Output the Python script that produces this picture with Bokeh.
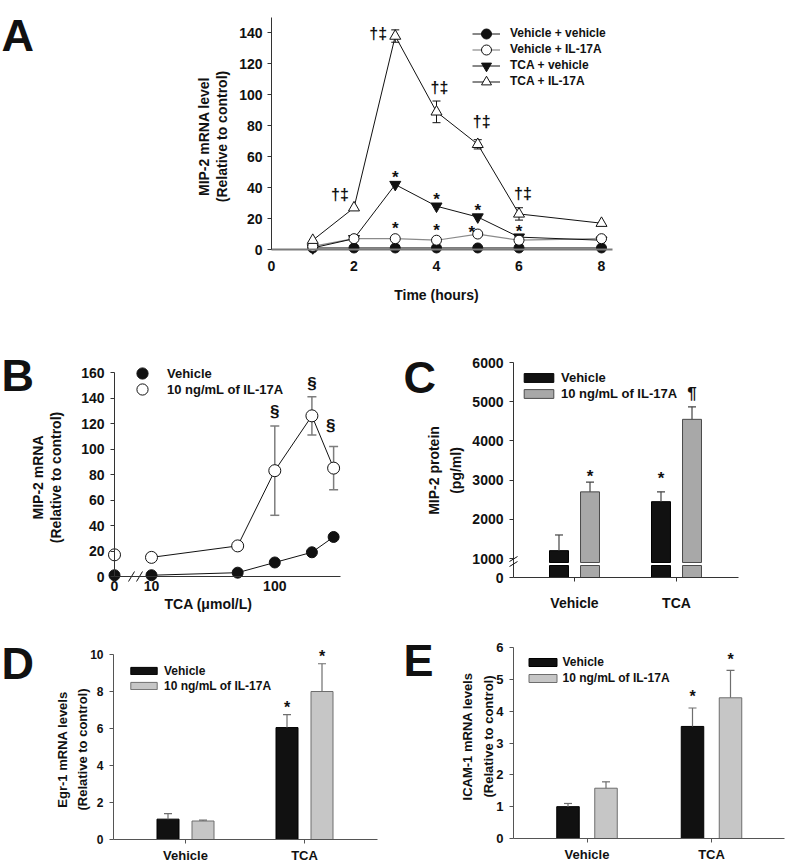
import math
from bokeh.plotting import figure
from bokeh.models import (Range1d, FixedTicker, Label, LabelSet, Legend, LegendItem,
                          Whisker, TeeHead, ColumnDataSource, Arrow)
from bokeh.layouts import column, row
from bokeh.embed import file_html
from bokeh.resources import INLINE
from bokeh.core.properties import value

FONT = "Liberation Sans"
INK = "#111111"

# ================= data =================
# Panel A : MIP-2 mRNA time course
a_time = [1, 2, 3, 4, 5, 6, 8]
a_veh_veh = [1, 1, 1, 1, 1, 1, 1]
a_veh_il17 = [2, 7, 7, 6, 10, 6, 7]
a_tca_veh = [1, 7, 42, 28, 21, 8, 6]
a_tca_il17 = [6, 27, 138, 89, 68, 23, 17]
a_tca_il17_err = [0, 0, 4, 7, 3, 4, 0]
a_x_ticks = [0, 2, 4, 6, 8]
a_y_ticks = [0, 20, 40, 60, 80, 100, 120, 140]
a_star_tca_veh = [3, 4, 5, 6]
a_star_veh_il17 = [3, 4, 5]
a_dagger_tca_il17 = [2, 3, 4, 5, 6]
a_labels = ["Vehicle + vehicle", "Vehicle + IL-17A", "TCA + vehicle", "TCA + IL-17A"]

# Panel B : dose response
b_conc = [0, 10, 50, 100, 200, 300]
b_vehicle = [1, 1, 3, 11, 19, 31]
b_il17 = [17, 15, 24, 83, 126, 85]
b_il17_err = [0, 0, 0, 35, 15, 17]
b_x_ticks = [0, 10, 100]
b_y_ticks = [0, 20, 40, 60, 80, 100, 120, 140, 160]
b_section = [100, 200, 300]
b_labels = ["Vehicle", "10 ng/mL of IL-17A"]

# Panels C, D, E : grouped bars
groups = ["Vehicle", "TCA"]
bar_labels = ["Vehicle", "10 ng/mL of IL-17A"]

c_vehicle = [1200, 2450]
c_vehicle_err = [400, 250]
c_vehicle_mark = ["", "*"]
c_il17 = [2700, 4550]
c_il17_err = [250, 320]
c_il17_mark = ["*", "\u00b6"]
c_y_ticks = [0, 1000, 2000, 3000, 4000, 5000, 6000]

d_vehicle = [1.1, 6.05]
d_vehicle_err = [0.3, 0.7]
d_vehicle_mark = ["", "*"]
d_il17 = [1.0, 8.0]
d_il17_err = [0.05, 1.5]
d_il17_mark = ["", "*"]
d_y_ticks = [0, 2, 4, 6, 8, 10]

e_vehicle = [1.0, 3.52]
e_vehicle_err = [0.1, 0.58]
e_vehicle_mark = ["", "*"]
e_il17 = [1.58, 4.42]
e_il17_err = [0.2, 0.86]
e_il17_mark = ["", "*"]
e_y_ticks = [0, 1, 2, 3, 4, 5, 6]


# ================= helpers =================
def make_panel(outer, xa, ya):
    """Figure whose plotting frame fills the whole box `outer` (page px).
    xa = (px0, v0, px1, v1), ya = (py0, v0, py1, v1): pixel anchors of the data scale."""
    ox0, oy0, ox1, oy1 = outer
    kx = (xa[3] - xa[1]) / (xa[2] - xa[0])
    ky = (ya[3] - ya[1]) / (ya[0] - ya[2])
    xr = (xa[1] + (ox0 - xa[0]) * kx, xa[1] + (ox1 - xa[0]) * kx)
    yr = (ya[1] - (oy1 - ya[0]) * ky, ya[1] + (ya[0] - oy0) * ky)
    p = figure(width=ox1 - ox0, height=oy1 - oy0, title=None,
               x_range=Range1d(*xr), y_range=Range1d(*yr),
               output_backend="svg", toolbar_location=None,
               min_border_left=0, min_border_right=0,
               min_border_top=0, min_border_bottom=0)
    p.xgrid.visible = False
    p.ygrid.visible = False
    p.outline_line_color = None
    p.background_fill_color = "white"
    p.border_fill_color = "white"

    def at(px, py):
        return xa[1] + (px - xa[0]) * kx, ya[1] + (ya[0] - py) * ky

    def loc(px_left, py_bottom):       # legend location, relative to frame bottom-left
        return (px_left - ox0, oy1 - py_bottom)
    return p, at, loc, kx, ky


def style_axis(ax, size, ticks, overrides=None, tick_out=4, standoff=6,
               color="#333333", width=1):
    ax.ticker = FixedTicker(ticks=ticks)
    if overrides:
        ax.major_label_overrides = overrides
    ax.axis_line_color = color
    ax.axis_line_width = width
    ax.major_tick_line_color = color if tick_out > 0 else None
    ax.major_tick_out = tick_out
    ax.major_tick_in = 0
    ax.minor_tick_line_color = None
    ax.major_label_standoff = standoff
    ax.major_label_text_font = FONT
    ax.major_label_text_font_style = "bold"
    ax.major_label_text_font_size = f"{size}px"
    ax.major_label_text_color = INK


def add_text(p, xy, text, size, angle=0.0, align="center", baseline="middle"):
    p.add_layout(Label(x=xy[0], y=xy[1], text=text, angle=angle,
                       text_align=align, text_baseline=baseline,
                       text_font=FONT, text_font_style="bold",
                       text_font_size=f"{size}px", text_color=INK))


def add_marks(p, xs, ys, texts, size):
    src = ColumnDataSource(dict(x=xs, y=ys, text=texts))
    p.add_layout(LabelSet(x="x", y="y", text="text", source=src,
                          text_align="center", text_baseline="middle",
                          text_font=value(FONT), text_font_style="bold",
                          text_font_size=value(f"{size}px"), text_color=INK))


def make_legend(items, loc, gw, gh, lh, standoff, size):
    return Legend(items=items, location=(float(loc[0]), float(loc[1])),
                  glyph_width=int(round(gw)), glyph_height=int(round(gh)),
                  spacing=0, padding=0, margin=0,
                  label_height=int(round(lh)), label_standoff=int(round(standoff)),
                  border_line_color=None, background_fill_alpha=0,
                  label_text_font=FONT, label_text_font_style="bold",
                  label_text_font_size=f"{size}px", label_text_color=INK)


STAR_LIFT = 5  # '*' sits high in the em box

# ================= Panel A =================
pA, atA, locA, kxA, kyA = make_panel((0, 0, 788, 310), (271, 0, 601, 8), (249, 0, 17, 150))
style_axis(pA.xaxis[0], 14, a_x_ticks, tick_out=0, standoff=11, color="#7a7a7a", width=2)
pA.xaxis[0].fixed_location = 0
pA.xaxis[0].bounds = (0, atA(612, 0)[0])
style_axis(pA.yaxis[0], 14, a_y_ticks, tick_out=4, standoff=5)
pA.yaxis[0].fixed_location = 0
pA.yaxis[0].bounds = (0, 150)

ti_idx = [i for i, e in enumerate(a_tca_il17_err) if e > 0]
srcA_err = ColumnDataSource(dict(
    x=[a_time[i] for i in ti_idx],
    lo=[a_tca_il17[i] - a_tca_il17_err[i] for i in ti_idx],
    hi=[a_tca_il17[i] + a_tca_il17_err[i] for i in ti_idx]))
pA.add_layout(Whisker(source=srcA_err, base="x", lower="lo", upper="hi",
                      line_color=INK, line_width=1,
                      upper_head=TeeHead(size=8, line_color=INK, line_width=1),
                      lower_head=TeeHead(size=8, line_color=INK, line_width=1)))

l_vv = pA.line(a_time, a_veh_veh, line_color=INK, line_width=1)
l_vi = pA.line(a_time, a_veh_il17, line_color="#8a8a8a", line_width=1.2)
l_tv = pA.line(a_time, a_tca_veh, line_color=INK, line_width=1)
l_ti = pA.line(a_time, a_tca_il17, line_color=INK, line_width=1)
s_vv = pA.scatter(a_time, a_veh_veh, marker="circle", size=10, fill_color=INK, line_color=INK)
s_tv = pA.scatter(a_time, a_tca_veh, marker="inverted_triangle", size=11, fill_color=INK, line_color=INK)
s_vi = pA.scatter(a_time, a_veh_il17, marker="circle", size=10, fill_color="white", line_color=INK)
s_ti = pA.scatter(a_time, a_tca_il17, marker="triangle", size=11, fill_color="white", line_color=INK)

A_LEG_ROWS = [33, 49, 65, 81]
for lbl, rends, r in zip(a_labels, [[l_vv, s_vv], [l_vi, s_vi], [l_tv, s_tv], [l_ti, s_ti]], A_LEG_ROWS):
    pA.add_layout(make_legend([LegendItem(label=lbl, renderers=rends)],
                              locA(472, r + 12.5), 28, 25, 16, 10, 12))

A_STAR_TV_OFF = {3: (0, 12), 4: (0, 12), 5: (0, 12), 6: (0, 11)}
A_STAR_VI_OFF = {3: (0, 15), 4: (0, 15), 5: (-6, 7)}
A_DAG_OFF = {2: (-14, 13), 3: (-17, -4), 4: (3, 14), 5: (4, 18), 6: (4, 14)}
mx, my, mt = [], [], []
for t in a_star_tca_veh:
    i = a_time.index(t)
    dx, dy = A_STAR_TV_OFF[t]
    mx.append(t + dx * kxA); my.append(a_tca_veh[i] + (dy - STAR_LIFT) * kyA); mt.append("*")
for t in a_star_veh_il17:
    i = a_time.index(t)
    dx, dy = A_STAR_VI_OFF[t]
    mx.append(t + dx * kxA); my.append(a_veh_il17[i] + (dy - STAR_LIFT) * kyA); mt.append("*")
add_marks(pA, mx, my, mt, 17)
gx, gy, gt = [], [], []
for t in a_dagger_tca_il17:
    i = a_time.index(t)
    dx, dy = A_DAG_OFF[t]
    gx.append(t + dx * kxA); gy.append(a_tca_il17[i] + a_tca_il17_err[i] + dy * kyA); gt.append("\u2020\u2021")
add_marks(pA, gx, gy, gt, 16)

add_text(pA, atA(203, 136), "MIP-2 mRNA level", 14, angle=math.pi / 2)
add_text(pA, atA(221, 136), "(Relative to control)", 14, angle=math.pi / 2)
add_text(pA, atA(436, 294), "Time (hours)", 14)
add_text(pA, atA(1, 35), "A", 45, align="left", baseline="alphabetic")

# ================= Panel B =================
B_ZERO = 0.7          # axis position used for the 0 concentration (left of the break)
B_PX_DEC = 123.3      # pixels per decade
def b_pos(c):
    return math.log10(c) if c > 0 else B_ZERO

pB, atB, locB, kxB, kyB = make_panel((0, 310, 400, 612), (114, B_ZERO, 114 + B_PX_DEC, B_ZERO + 1),
                                     (576, 0, 372, 160))
bx_ticks = [b_pos(c) for c in b_x_ticks]
style_axis(pB.xaxis[0], 14, bx_ticks, overrides={bx_ticks[k]: str(c) for k, c in enumerate(b_x_ticks)},
           tick_out=0, standoff=4)
pB.xaxis[0].fixed_location = 0
pB.xaxis[0].bounds = (B_ZERO, atB(340, 0)[0])
style_axis(pB.yaxis[0], 14, b_y_ticks, tick_out=4, standoff=6)
pB.yaxis[0].fixed_location = B_ZERO
pB.yaxis[0].bounds = (0, 160)

bx = [b_pos(c) for c in b_conc]
b_idx = [i for i, e in enumerate(b_il17_err) if e > 0]
srcB_err = ColumnDataSource(dict(x=[bx[i] for i in b_idx],
                                 lo=[b_il17[i] - b_il17_err[i] for i in b_idx],
                                 hi=[b_il17[i] + b_il17_err[i] for i in b_idx]))
pB.add_layout(Whisker(source=srcB_err, base="x", lower="lo", upper="hi",
                      line_color="#7d7d7d", line_width=1.5,
                      upper_head=TeeHead(size=9, line_color="#7d7d7d", line_width=1.5),
                      lower_head=TeeHead(size=9, line_color="#7d7d7d", line_width=1.5)))
pB.line(bx[1:], b_vehicle[1:], line_color=INK, line_width=1)
pB.line(bx[1:], b_il17[1:], line_color=INK, line_width=1)
sb_v = pB.scatter(bx, b_vehicle, marker="circle", size=11, fill_color=INK, line_color=INK)
sb_i = pB.scatter(bx, b_il17, marker="circle", size=12, fill_color="white", line_color=INK)

# axis break marks between 0 and 10
brk_c = [atB(131, 0)[0], atB(139, 0)[0]]
pB.segment(x0=[c - 3 * kxB for c in brk_c], y0=[-5 * kyB] * 2,
           x1=[c + 3 * kxB for c in brk_c], y1=[5 * kyB] * 2, line_color=INK, line_width=1)

for lbl, rend, r in zip(b_labels, [sb_v, sb_i], [373, 389]):
    pB.add_layout(make_legend([LegendItem(label=lbl, renderers=[rend])],
                              locB(128, r + 14), 28, 28, 16, 11, 13))

B_SEC_OFF = {100: (0, 15), 200: (0, 13), 300: (-3, 21)}
sx, sy, st = [], [], []
for c in b_section:
    i = b_conc.index(c)
    dx, dy = B_SEC_OFF[c]
    sx.append(bx[i] + dx * kxB); sy.append(b_il17[i] + b_il17_err[i] + dy * kyB); st.append("\u00a7")
add_marks(pB, sx, sy, st, 17)

add_text(pB, atB(37, 477), "MIP-2 mRNA", 14, angle=math.pi / 2)
add_text(pB, atB(55, 477), "(Relative to control)", 14, angle=math.pi / 2)
add_text(pB, atB(208, 603), "TCA (\u03bcmol/L)", 14)
add_text(pB, atB(1, 375), "B", 45, align="left", baseline="alphabetic")

# ================= Panel C (broken y axis) =================
C_LOW = 1000 * 19 / 39.2     # display height of the 0-1000 segment
def c_disp(v):
    return v * C_LOW / 1000 if v <= 1000 else v - 1000 + C_LOW

pC, atC, locC, kxC, kyC = make_panel((400, 310, 788, 612), (574, 0, 676, 1), (577, 0, 362, c_disp(6000)))
cy_ticks = [c_disp(v) for v in c_y_ticks]
style_axis(pC.yaxis[0], 14, cy_ticks, overrides={cy_ticks[k]: str(v) for k, v in enumerate(c_y_ticks)},
           tick_out=4, standoff=6)
style_axis(pC.xaxis[0], 14, [0, 1], overrides={0: groups[0], 1: groups[1]}, tick_out=4, standoff=13)
c_left = atC(513, 0)[0]
pC.yaxis[0].fixed_location = c_left
pC.yaxis[0].bounds = (0, c_disp(6000))
pC.xaxis[0].fixed_location = 0
pC.xaxis[0].bounds = (c_left, atC(738, 0)[0])

C_OFF, C_W = 0.152, 0.186
gap_lo, gap_hi = 12 * kyC, 15 * kyC
cxb = [i - C_OFF for i in range(len(groups))]
cxg = [i + C_OFF for i in range(len(groups))]
pC.vbar(x=cxb, width=C_W, bottom=0, top=gap_lo, fill_color=INK, line_color="#000000")
rc_b = pC.vbar(x=cxb, width=C_W, bottom=gap_hi, top=[c_disp(v) for v in c_vehicle],
               fill_color=INK, line_color="#000000")
pC.vbar(x=cxg, width=C_W, bottom=0, top=gap_lo, fill_color="#a8a8a8", line_color="#4a4a4a")
rc_g = pC.vbar(x=cxg, width=C_W, bottom=gap_hi, top=[c_disp(v) for v in c_il17],
               fill_color="#a8a8a8", line_color="#4a4a4a")
srcC_err = ColumnDataSource(dict(x=cxb + cxg,
                                 lo=[c_disp(v) for v in c_vehicle + c_il17],
                                 hi=[c_disp(v + e) for v, e in zip(c_vehicle + c_il17, c_vehicle_err + c_il17_err)]))
pC.add_layout(Whisker(source=srcC_err, base="x", lower="lo", upper="hi", level="glyph",
                      line_color="#444444", line_width=1.2, lower_head=None,
                      upper_head=TeeHead(size=8, line_color="#444444", line_width=1.2)))
for (xa_, ya_) in [((509, 561), (517, 556)), ((509, 566), (517, 561))]:
    x0, y0 = atC(*xa_)
    x1, y1 = atC(*ya_)
    pC.add_layout(Arrow(x_start=x0, y_start=y0, x_end=x1, y_end=y1, end=None,
                        line_color=INK, line_width=1))
pC.add_layout(make_legend([LegendItem(label=bar_labels[0], renderers=[rc_b]),
                           LegendItem(label=bar_labels[1], renderers=[rc_g])],
                          locC(520, 401), 37, 11, 16, 4, 13))
C_MARK_LIFT = {"vehicle": [14, 18], "il17": [11, 13]}   # px above the error-bar top
mx, my, mt = [], [], []
for key, xs, vals, errs, marks in [("vehicle", cxb, c_vehicle, c_vehicle_err, c_vehicle_mark),
                                   ("il17", cxg, c_il17, c_il17_err, c_il17_mark)]:
    for k, (x, v, e, m) in enumerate(zip(xs, vals, errs, marks)):
        if m:
            lift = C_MARK_LIFT[key][k] - (STAR_LIFT if m == "*" else 0)
            mx.append(x); my.append(c_disp(v + e) + lift * kyC); mt.append(m)
add_marks(pC, mx, my, mt, 17)
add_text(pC, atC(433, 470), "MIP-2 protein", 14, angle=math.pi / 2)
add_text(pC, atC(455, 470), "(pg/ml)", 14, angle=math.pi / 2)
add_text(pC, atC(403, 377), "C", 45, align="left", baseline="alphabetic")


# ================= Panels D and E =================
def bar_panel(outer, axis_px, center_px, unit_px, y_px, y_top, yticks, vals_v, err_v, mark_v,
              vals_i, err_i, mark_i, off_px, w_px, ysize, leg_left, leg_bottom, leg_gw, leg_gh,
              leg_lh, leg_so, star_px):
    p, at, loc, kx, ky = make_panel(outer, (center_px, 0, center_px + unit_px, 1),
                                    (y_px[0], 0, y_px[1], y_top))
    style_axis(p.yaxis[0], ysize, yticks, tick_out=4, standoff=6, color="#555555")
    style_axis(p.xaxis[0], 13, [0, 1], overrides={0: groups[0], 1: groups[1]},
               tick_out=4, standoff=4, color="#555555")
    left = at(axis_px[0], 0)[0]
    p.yaxis[0].fixed_location = left
    p.yaxis[0].bounds = (0, y_top)
    p.xaxis[0].fixed_location = 0
    p.xaxis[0].bounds = (left, at(axis_px[1], 0)[0])
    off, w = off_px / unit_px, w_px / unit_px
    xb = [i - off for i in range(len(groups))]
    xg = [i + off for i in range(len(groups))]
    rb = p.vbar(x=xb, width=w, bottom=0, top=vals_v, fill_color=INK, line_color="#000000")
    rg = p.vbar(x=xg, width=w, bottom=0, top=vals_i, fill_color="#c6c6c6", line_color="#6e6e6e")
    src = ColumnDataSource(dict(x=xb + xg, lo=vals_v + vals_i,
                                hi=[v + e for v, e in zip(vals_v + vals_i, err_v + err_i)]))
    p.add_layout(Whisker(source=src, base="x", lower="lo", upper="hi", level="glyph",
                         line_color="#6e6e6e", line_width=1.2, lower_head=None,
                         upper_head=TeeHead(size=8, line_color="#6e6e6e", line_width=1.2)))
    p.add_layout(make_legend([LegendItem(label=bar_labels[0], renderers=[rb]),
                              LegendItem(label=bar_labels[1], renderers=[rg])],
                             loc(leg_left, leg_bottom), leg_gw, leg_gh, leg_lh, leg_so, 12))
    mx, my, mt = [], [], []
    for xs, vals, errs, marks in [(xb, vals_v, err_v, mark_v), (xg, vals_i, err_i, mark_i)]:
        for x, v, e, m in zip(xs, vals, errs, marks):
            if m:
                mx.append(x); my.append(v + e + (star_px - STAR_LIFT) * ky); mt.append(m)
    add_marks(p, mx, my, mt, 16)
    return p, at


pD, atD = bar_panel((0, 612, 400, 861), (113, 377), 185, 119, (839, 654), 10, d_y_ticks,
                    d_vehicle, d_vehicle_err, d_vehicle_mark, d_il17, d_il17_err, d_il17_mark,
                    17.5, 22, 12, 127, 693, 33, 9, 15, 4, 12)
add_text(pD, atD(62, 749), "Egr-1 mRNA levels", 13, angle=math.pi / 2)
add_text(pD, atD(82, 749), "(Relative to control)", 13, angle=math.pi / 2)
add_text(pD, atD(1, 663), "D", 45, align="left", baseline="alphabetic")

pE, atE = bar_panel((400, 612, 788, 861), (513, 784), 586.5, 124.5, (838, 647), 6, e_y_ticks,
                    e_vehicle, e_vehicle_err, e_vehicle_mark, e_il17, e_il17_err, e_il17_mark,
                    19, 22.5, 13, 524.5, 686, 35, 10, 16, 3, 16)
add_text(pE, atE(467, 736), "ICAM-1 mRNA levels", 13, angle=math.pi / 2)
add_text(pE, atE(488, 736), "(Relative to control)", 13, angle=math.pi / 2)
add_text(pE, atE(403, 660), "E", 45, align="left", baseline="alphabetic")

layout = column(pA, row(pB, pC, spacing=0), row(pD, pE, spacing=0), spacing=0)
open("out.html", "w").write(file_html(layout, INLINE))
